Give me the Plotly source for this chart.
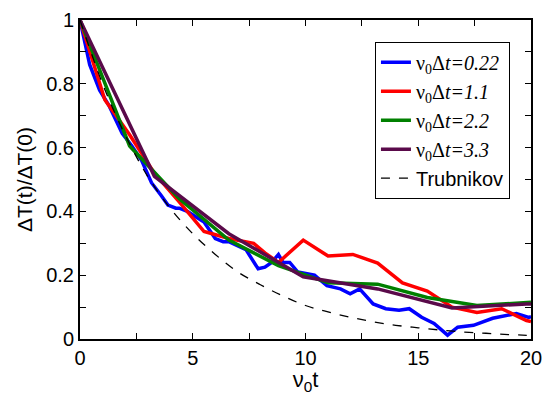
import plotly.graph_objects as go

# Blue: nu0*dt = 0.22
t_blue = [0, 0.43, 0.87, 1.3, 1.6, 1.87, 2.3, 2.73, 3.17, 3.46, 3.6, 3.9, 4.25, 4.4, 4.76, 5.5, 6.0,
          6.35, 6.6, 7.36, 7.9, 8.2, 8.5, 8.8, 9.0, 9.3, 9.66, 10.4, 10.95, 11.55, 11.98, 12.4, 13.0,
          13.56, 14.15, 14.6, 15.15, 15.7, 16.3, 16.75, 17.45, 18.3, 18.9, 19.35, 19.9, 20.0]
v_blue = [1.0, 0.86, 0.78, 0.73, 0.685, 0.645, 0.605, 0.56, 0.49, 0.46, 0.45, 0.42, 0.41, 0.41, 0.40,
          0.367, 0.315, 0.305, 0.305, 0.28, 0.22, 0.225, 0.24, 0.265, 0.24, 0.24, 0.21, 0.20, 0.167,
          0.157, 0.142, 0.157, 0.11, 0.095, 0.09, 0.095, 0.068, 0.049, 0.012, 0.037, 0.043, 0.065,
          0.074, 0.08, 0.068, 0.07]

# Red: nu0*dt = 1.1
t_red = [0, 1.1, 2.2, 3.3, 4.4, 5.5, 6.6, 7.7, 8.2, 8.8, 9.9, 11.0, 12.1, 13.2, 14.3, 15.4, 16.5,
         17.6, 18.7, 19.8, 20.0]
v_red = [1.0, 0.75, 0.64, 0.52, 0.43, 0.337, 0.315, 0.30, 0.27, 0.24, 0.31, 0.26, 0.265, 0.238,
         0.176, 0.15, 0.10, 0.083, 0.095, 0.058, 0.055]

# Green: nu0*dt = 2.2
t_green = [0, 2.2, 4.4, 6.6, 8.8, 11.0, 13.2, 15.4, 17.6, 19.8, 20.0]
v_green = [1.0, 0.605, 0.44, 0.31, 0.23, 0.176, 0.172, 0.13, 0.105, 0.113, 0.115]

# Purple: nu0*dt = 3.3
t_purple = [0, 3.3, 6.6, 9.9, 13.2, 16.5, 19.8, 20.0]
v_purple = [1.0, 0.51, 0.33, 0.195, 0.157, 0.097, 0.11, 0.11]

# Trubnikov (dashed)
t_trub = [0, 1, 2, 3, 4, 5, 6, 7, 8, 9, 10, 11, 12, 13, 14, 15, 16, 17, 18, 19, 20]
v_trub = [1.0, 0.80, 0.64, 0.51, 0.41, 0.33, 0.265, 0.21, 0.17, 0.135, 0.105, 0.085, 0.068,
          0.054, 0.043, 0.035, 0.028, 0.022, 0.018, 0.014, 0.011]

x_tickvals = [0, 5, 10, 15, 20]
x_ticktext = ["0", "5", "10", "15", "20"]
y_tickvals = [0, 0.2, 0.4, 0.6, 0.8, 1.0]
y_ticktext = ["0", "0.2", "0.4", "0.6", "0.8", "1"]

names = ["ν<sub>0</sub>Δ<i>t=0.22</i>", "ν<sub>0</sub>Δ<i>t=1.1</i>",
         "ν<sub>0</sub>Δ<i>t=2.2</i>", "ν<sub>0</sub>Δ<i>t=3.3</i>"]
trub_name = "<span style='font-family:Liberation Sans, Arial'>Trubnikov</span>"

SANS = "Liberation Sans, Arial"

fig = go.Figure()
series = [(t_blue, v_blue, "#0000ff"), (t_red, v_red, "#ff0000"),
          (t_green, v_green, "#008000"), (t_purple, v_purple, "#5a0a4a")]
for (tx, vy, c), nm in zip(series, names):
    fig.add_trace(go.Scatter(x=tx, y=vy, mode="lines", name=nm,
                             line=dict(color=c, width=3.5)))
fig.add_trace(go.Scatter(x=t_trub, y=v_trub, mode="lines", name=trub_name,
                         line=dict(color="black", width=1.3, dash="dash", shape="spline")))

axis_common = dict(showline=True, linecolor="black", linewidth=2, mirror="allticks",
                   ticks="inside", ticklen=6, tickwidth=1, tickcolor="black",
                   showgrid=False, zeroline=False, ticklabeloverflow="allow",
                   tickfont=dict(family=SANS, size=20, color="black"))

fig.update_xaxes(range=[0, 20], tickvals=x_tickvals, ticktext=x_ticktext,
                 minor=dict(ticks="inside", dtick=2.5, ticklen=6, tickcolor="black", tickwidth=1),
                 title=dict(text="ν<sub>0</sub>t", standoff=2,
                            font=dict(family=SANS, size=22, color="black")),
                 **axis_common)
fig.update_yaxes(range=[0, 1], tickvals=y_tickvals, ticktext=y_ticktext,
                 minor=dict(ticks="inside", dtick=0.1, ticklen=6, tickcolor="black", tickwidth=1),
                 title=dict(text="ΔT(t)/ΔT(0)", standoff=8,
                            font=dict(family=SANS, size=21, color="black")),
                 **axis_common)

fig.update_layout(
    width=551, height=395,
    margin=dict(l=80, r=9, t=15, b=56),
    plot_bgcolor="white", paper_bgcolor="white",
    legend=dict(x=0.654, y=0.932, xanchor="left", yanchor="top",
                bordercolor="black", borderwidth=1, bgcolor="white",
                font=dict(family="Liberation Serif, Times New Roman", size=20, color="black"),
                itemwidth=30, tracegroupgap=0),
    showlegend=True,
)

fig.write_html("out.html")
